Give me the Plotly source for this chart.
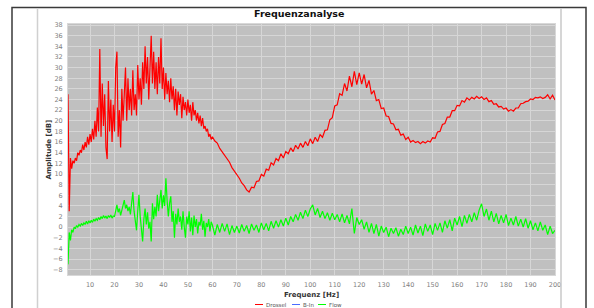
import numpy as np
import plotly.graph_objects as go

# ---------------- data ----------------
# dense part sampled every 0.5 Hz (1..60 Hz), coarse part every 1 Hz (61..200 Hz)
freq_dense = list(np.arange(1.0, 60.01, 0.5))
freq_coarse = list(range(61, 201))

drossel_dense = [
    25, 3, 13, 11, 12.5, 12, 13, 12.5, 14, 13.5,
    14.5, 14, 15.5, 14.5, 16, 15, 17, 15.5, 17.5, 16,
    18.5, 16.5, 20, 17, 22.5, 18, 33.5, 17, 27, 19,
    25, 15, 12.8, 27.5, 18, 24, 16, 23, 18, 30,
    33, 17, 22, 15, 26, 20, 25, 30, 20, 28,
    22, 26, 21, 29.5, 22, 25, 21, 30.5, 24, 28,
    23, 31, 26, 34, 27, 32, 24, 30, 36, 27,
    33, 26, 31, 25, 32, 27, 35.5, 26, 30, 24,
    29, 25, 27.5, 23.5, 28, 24, 26.5, 22, 26, 21,
    25.5, 23, 25, 20.5, 24.5, 22, 23.5, 21, 24, 21.5,
    23, 20, 23.5, 21, 22, 20, 21.5, 19.5, 21, 19,
    20.5, 18.5, 19, 18, 18.5, 17, 17.5, 16.5, 17,
]
drossel_coarse = [
    16.2, 15.8, 14.8, 14.2, 13.5, 12.8, 12.2, 11.2, 10.6, 9.8,
    9.2, 8.3, 7.8, 7.0, 6.6, 7.5, 7.4, 8.6, 8.7, 9.9,
    9.6, 10.9, 10.7, 12.1, 11.7, 12.9, 12.5, 13.8, 13.0, 14.2,
    13.8, 14.9, 14.2, 15.4, 14.7, 15.8, 15.0, 16.1, 15.3, 16.6,
    15.7, 16.9, 16.1, 17.4, 16.9, 18.2, 18.3, 20.2, 20.6, 22.8,
    23.0, 25.1, 24.8, 27.0, 25.6, 28.4, 26.4, 29.3, 26.8, 29.0,
    26.9, 28.7, 26.2, 27.6, 25.0, 25.7, 23.8, 24.0, 22.3, 22.4,
    20.9, 20.8, 19.5, 19.4, 18.3, 18.4, 17.3, 17.5, 16.5, 16.9,
    16.0, 16.3, 15.9, 16.1, 15.7, 16.1, 15.8, 16.2, 16.0, 16.8,
    16.7, 17.9, 18.0, 19.3, 19.5, 20.7, 20.7, 21.9, 21.9, 22.9,
    22.8, 23.8, 23.5, 24.3, 23.9, 24.4, 24.1, 24.6, 24.2, 24.5,
    24.0, 24.3, 23.6, 23.8, 23.1, 23.2, 22.6, 22.7, 22.2, 22.4,
    21.8, 22.1, 21.8, 22.4, 22.4, 23.2, 23.3, 23.6, 23.7, 24.1,
    24.0, 24.4, 24.3, 24.5, 24.2, 24.4, 24.9, 24.1, 24.8, 23.9,
]

flow_dense = [
    -7, -1, -2.5, -0.5, -1, 0, -0.3, 0.3, 0, 0.5,
    0.2, 0.7, 0.3, 0.8, 0.5, 1.1, 0.6, 1.2, 0.8, 1.3,
    0.9, 1.5, 1.1, 1.6, 1.3, 1.8, 1.4, 2.0, 1.6, 2.2,
    1.7, 2.1, 1.6, 2.2, 1.8, 2.3, 1.7, 2.1, 2.0, 3.0,
    4.2, 2.8, 3.5, 2.2, 3.0, 4.0, 5.1, 3.5, 4.2, 3.0,
    3.8, 2.4, 4.5, 6.6, 3.0, 1.0, -0.6, 3.0, 6.1, 2.0,
    -0.5, -2.7, 1.5, 3.5, 0.5, 2.8, -0.3, 1.0, -2.7, 4.5,
    1.5, 3.8, 2.0, 6.1, 3.0, 5.5, 7.0, 3.5, 6.0, 4.0,
    9.2, 5.0, 2.0, 4.5, 5.8, 1.0, 3.0, -2.0, 2.5, 0.5,
    3.5, 1.0, 2.0, -0.5, 3.0, 0.0, -2.0, 2.0, 0.5, 3.0,
    -0.8, 1.8, -1.5, 2.2, 0.0, 1.5, -1.2, 1.0, 0.3, 2.5,
    -0.5, 1.2, -1.8, 0.8, 0.0, 1.5, -0.8, 1.0, 0.4,
]
flow_coarse = [
    -1.5, 0.5, -1.0, 0.7, -0.8, 0.6, -1.4, 0.3, -1.0, 0.2,
    -1.1, 0.5, -0.8, 0.3, -1.2, 0.6, -0.6, 0.4, -1.0, 0.8,
    -0.5, 0.7, -0.7, 1.1, -0.2, 1.2, 0.0, 1.4, 0.2, 1.7,
    0.4, 2.0, 1.0, 2.4, 1.3, 2.8, 1.6, 3.2, 2.0, 3.4,
    4.2, 2.3, 3.5, 1.8, 3.0, 1.6, 2.7, 1.3, 2.6, 1.4,
    2.4, 1.0, 2.5, 0.8, 2.2, 0.6, 3.5, -1.2, 1.8, 0.5,
    1.4, -0.4, 1.0, -1.0, 0.7, -1.2, 0.5, -1.7, 0.2, -1.0,
    0.0, -1.8, -0.2, -1.2, -0.1, -1.7, -0.4, -1.4, 0.2, -1.2,
    0.0, -1.5, 0.4, -1.1, 0.2, -1.6, 0.6, -0.8, 0.4, -1.4,
    0.7, -0.6, 0.8, -1.0, 1.2, -0.2, 1.4, -0.7, 1.7, 0.4,
    2.0, 0.1, 2.2, 0.7, 2.4, 1.0, 2.7, 1.3, 3.2, 4.4,
    2.0, 3.4, 1.3, 3.0, 1.0, 2.6, 0.6, 2.2, 0.8, 2.4,
    0.3, 1.7, 0.4, 2.0, 0.2, 1.5, 0.0, 1.6, -0.2, 1.2,
    -0.5, 0.8, -0.7, 1.0, -0.6, 0.4, -1.4, 0.2, -1.2, -0.6,
]

freq = freq_dense + freq_coarse
drossel = drossel_dense + drossel_coarse
flow = flow_dense + flow_coarse
assert len(freq) == len(drossel) == len(flow), (len(freq), len(drossel), len(flow))

y_ticks = list(range(-8, 39, 2))
x_ticks = list(range(10, 201, 10))

series_names = ["Drossel", "B-In", "Flow"]
series_colors = ["#ff0000", "#4a6cff", "#00ff00"]

# ---------------- layout geometry ----------------
W, H = 594, 308
L, R, T, B = 68, 555, 24, 275
PW, PH = R - L, B - T


def px(x):
    return (x - L) / PW


def py(y):
    return (B - y) / PH


FONT = "DejaVu Sans"
fig = go.Figure()
fig.add_trace(go.Scatter(x=freq, y=drossel, mode="lines", name=series_names[0],
                         line=dict(color=series_colors[0], width=1.2), showlegend=False))
fig.add_trace(go.Scatter(x=freq, y=flow, mode="lines", name=series_names[2],
                         line=dict(color=series_colors[2], width=1.2), showlegend=False))

shapes = [
    # outer document frame
    dict(type="path", xref="paper", yref="paper",
         path=f"M {px(12)} {py(312)} L {px(12)} {py(7.5)} L {px(586)} {py(7.5)} L {px(586)} {py(312)}",
         line=dict(color="#3a3a3a", width=1.5)),
    # inner panel edges
    dict(type="line", xref="paper", yref="paper", x0=px(37.5), x1=px(37.5), y0=py(8), y1=py(312),
         line=dict(color="#d0d0d0", width=1.5)),
    dict(type="line", xref="paper", yref="paper", x0=px(561), x1=px(561), y0=py(8), y1=py(312),
         line=dict(color="#c8c8c8", width=1.5)),
]

annotations = [
    dict(text="<b>Frequenzanalyse</b>", xref="paper", yref="paper", x=px(299), y=py(13),
         xanchor="center", yanchor="middle",
         showarrow=False, font=dict(family=FONT, size=9.5, color="#111")),
    dict(text="<b>Amplitude [dB]</b>", xref="paper", yref="paper", x=px(48), y=0.5, textangle=-90,
         xanchor="center", yanchor="middle",
         showarrow=False, font=dict(family=FONT, size=7, color="#333")),
    dict(text="<b>Frequenz [Hz]</b>", xref="paper", yref="paper", x=0.5, y=py(295),
         xanchor="center", yanchor="middle", borderpad=0,
         showarrow=False, font=dict(family=FONT, size=7, color="#333")),
]

# legend (partly cut off at the page bottom, as in the original)
leg_x = [255, 292, 318]
for name, col, lx in zip(series_names, series_colors, leg_x):
    shapes.append(dict(type="line", xref="paper", yref="paper", x0=px(lx), x1=px(lx + 8),
                       y0=py(304.5), y1=py(304.5), line=dict(color=col, width=1)))
    annotations.append(dict(text=name, xref="paper", yref="paper", x=px(lx + 10), y=py(305),
                            xanchor="left", yanchor="middle", borderpad=0, showarrow=False,
                            font=dict(family=FONT, size=5.5, color="#555")))

fig.update_layout(
    width=W, height=H,
    margin=dict(l=L, r=W - R, t=T, b=H - B, pad=0),
    paper_bgcolor="white", plot_bgcolor="#c0c0c0",
    shapes=shapes, annotations=annotations,
    showlegend=False,
    font=dict(family=FONT, size=6.5, color="#808080"),
)
fig.update_xaxes(range=[1, 200], tickvals=x_ticks, showgrid=True, gridcolor="#d6d6d6", gridwidth=1,
                 zeroline=False, showline=True, linecolor="#d8d8d8", mirror=True, ticks="",
                 ticklabelstandoff=3,
                 tickfont=dict(family=FONT, size=6.5, color="#808080"))
fig.update_yaxes(range=[-9, 38.2], tickvals=y_ticks, showgrid=True, gridcolor="#d6d6d6", gridwidth=1,
                 zeroline=False, showline=True, linecolor="#d8d8d8", mirror=True, ticks="",
                 ticklabelstandoff=3,
                 tickfont=dict(family=FONT, size=6.5, color="#808080"))

fig.write_html("out.html", config={"displayModeBar": False},
               post_script="document.body.style.margin='0';document.body.style.overflow='hidden';")
